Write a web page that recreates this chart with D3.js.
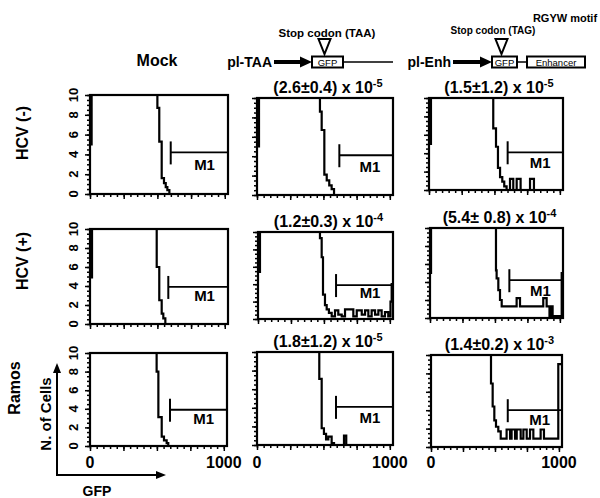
<!DOCTYPE html>
<html>
<head>
<meta charset="utf-8">
<script src="https://cdn.jsdelivr.net/npm/d3@7"></script>
<style>
  body { margin: 0; background: #fff; }
  svg { display: block; font-family: 'Liberation Sans', Arial, sans-serif; font-weight: bold; }
</style>
</head>
<body>
<svg></svg>
<script>
// histogram traces, [GFP, cells] with counts clipped at 10
const mockNeg = [[0, 5], [12, 10], [500, 8.7], [514, 5.3], [532, 1.6], [549, 1.1], [562, 0.7], [574, 0.4], [589, 0]];
const taaNeg = [[0, 5], [15, 10], [474, 8.6], [487, 6.7], [507, 2.1], [525, 1.5], [544, 1], [562, 0.6], [580, 0]];
const enhNeg = [[0, 5], [15, 10], [491, 6.7], [512, 4.7], [527, 2.4], [543, 1.4], [560, 0.9], [575, 0.4], [593, 0],
  [619, 1.2], [644, 0], [670, 1.2], [700, 0], [772, 1.2], [802, 0]];
const mockPos = [[0, 4.9], [15, 10], [495, 6], [514, 2.5], [532, 1.1], [544, 0.6], [559, 0]];
const taaPos = [[0, 5.4], [15, 10], [470, 9.3], [483, 7.1], [493, 2.8], [508, 1.6], [521, 1.1], [538, 0.7], [559, 0.3],
  [584, 1], [609, 0.5], [635, 0.3], [660, 1.1], [723, 0.3], [749, 1], [787, 0.5], [812, 1], [837, 0.3], [862, 1],
  [888, 0.5], [913, 1], [938, 0.3], [963, 0.8], [988, 0.3], [1005, 2], [1014, 4]];
const enhPos = [[0, 5], [8, 10], [508, 5.3], [513, 4.4], [526, 3.1], [539, 2], [552, 1.3], [667, 2.2], [693, 1.3],
  [872, 2.2], [898, 1.3], [911, 1.3], [920, 0.1], [925, 1.3], [932, 0.1], [937, 1.3], [944, 0.2], [975, 0.2], [1014, 5]];
const mockRamos = [[0, 10], [498, 8], [511, 3.1], [536, 1], [553, 0.6], [573, 0.3], [585, 0]];
const taaRamos = [[0, 10], [469, 7.1], [487, 1.8], [504, 1.2], [520, 0.6], [537, 0.9], [562, 0.2], [580, 0], [655, 1], [672, 0]];
const enhRamos = [[0, 10], [469, 6.9], [482, 4.4], [495, 2.9], [508, 2.2], [526, 1.7], [545, 0.9], [591, 1.9], [618, 0.9],
  [630, 1.9], [657, 0.9], [670, 1.9], [701, 0.9], [722, 1.9], [748, 0.9], [774, 1.9], [800, 0.9], [857, 1.9], [883, 0.9], [995, 9]];

const histograms = [mockNeg, taaNeg, enhNeg, mockPos, taaPos, enhPos, mockRamos, taaRamos, enhRamos];

const rowLabels = ['HCV (-)', 'HCV (+)', 'Ramos'];
const freqValues = [null, '(2.6\u00b10.4) x 10', '(1.5\u00b11.2) x 10', null, '(1.2\u00b10.3) x 10', '(5.4\u00b1 0.8) x 10',
  null, '(1.8\u00b11.2) x 10', '(1.4\u00b10.2) x 10'];
const freqExps = [null, '-5', '-5', null, '-4', '-4', null, '-5', '-3'];
const gateStart = [599, 620, 601, 581, 592, 611, 598, 595, 600];
const gateLevel = [4.2, 4.1, 4.1, 3.9, 3.9, 4.2, 3.9, 4.1, 4.0];
const yTicks = [0, 2, 4, 6, 8, 10];
const xTicks = [0, 1000];

const width = 600;
const height = 498;

// panel boxes in pixels
const panels = [
  { x: 90, y: 95, w: 138, h: 99 }, { x: 257, y: 98, w: 136, h: 97 }, { x: 429, y: 98, w: 134, h: 92 },
  { x: 90, y: 229, w: 138, h: 95 }, { x: 258, y: 232, w: 135, h: 87 }, { x: 430, y: 228, w: 133, h: 90 },
  { x: 90, y: 353, w: 137, h: 93 }, { x: 257, y: 352, w: 136, h: 93 }, { x: 431, y: 355, w: 131, h: 92 },
];

const svg = d3.select('svg').attr('width', width).attr('height', height);

const drawPanel = (i) => {
  const p = panels[i];
  const col = i % 3;
  const row = Math.floor(i / 3);
  const g = svg.append('g').attr('transform', 'translate(' + p.x + ',' + p.y + ')');

  const xScale = d3.scaleLinear().domain([0, 1024]).range([0, p.w]);
  const yScale = d3.scaleLinear().domain([0, 10]).range([p.h, 0]);

  // minor and major ticks
  const yMinor = g.append('g').call(d3.axisLeft(yScale).tickValues(d3.range(0, 10.01, 0.5)).tickSize(3).tickFormat(''));
  const yMajor = g.append('g').call(d3.axisLeft(yScale).tickValues(yTicks).tickSize(5).tickFormat(''));
  const xMinor = g.append('g').attr('transform', 'translate(0,' + p.h + ')')
    .call(d3.axisBottom(xScale).tickValues(d3.range(0, 1024, 50)).tickSize(3).tickFormat(''));
  const xMajor = g.append('g').attr('transform', 'translate(0,' + p.h + ')')
    .call(d3.axisBottom(xScale).tickValues([0, 250, 500, 750, 1000]).tickSize(5).tickFormat(''));
  [yMinor, yMajor, xMinor, xMajor].forEach((a) => {
    a.select('.domain').remove();
    a.selectAll('line').attr('stroke', '#000').attr('stroke-width', 1.5);
  });

  // rotated y labels on the first column only
  if (col === 0) {
    g.selectAll('.ylab')
      .data(yTicks)
      .enter()
      .append('text')
      .attr('class', 'ylab')
      .attr('transform', (d) => 'translate(-12,' + yScale(d) + ') rotate(-90)')
      .attr('text-anchor', 'middle')
      .style('font-size', '13px')
      .text((d) => d);
  }

  if (row === 2) {
    g.selectAll('.xlab')
      .data(xTicks)
      .enter()
      .append('text')
      .attr('class', 'xlab')
      .attr('x', (d) => xScale(d))
      .attr('y', 468 - p.y)
      .attr('text-anchor', 'middle')
      .style('font-size', '16px')
      .text((d) => d);
  }

  // histogram
  const data = histograms[i].concat([[1024, histograms[i][histograms[i].length - 1][1]]]);
  const line = d3.line()
    .x((d) => xScale(d[0]))
    .y((d) => yScale(d[1]))
    .curve(d3.curveStepAfter);
  g.append('path')
    .attr('d', line(data))
    .attr('fill', 'none')
    .attr('stroke', '#000')
    .attr('stroke-width', 2.2);

  // frame
  g.append('rect')
    .attr('width', p.w)
    .attr('height', p.h)
    .attr('fill', 'none')
    .attr('stroke', '#000')
    .attr('stroke-width', 2.2);

  // M1 gate
  const gx = xScale(gateStart[i]);
  const gy = yScale(gateLevel[i]);
  g.append('line').attr('x1', gx).attr('x2', p.w).attr('y1', gy).attr('y2', gy)
    .attr('stroke', '#000').attr('stroke-width', 1.8);
  g.append('line').attr('x1', gx).attr('x2', gx).attr('y1', gy - 11).attr('y2', gy + 12)
    .attr('stroke', '#000').attr('stroke-width', 2);
  g.append('text')
    .attr('x', xScale(850))
    .attr('y', yScale(2.4))
    .attr('text-anchor', 'middle')
    .style('font-size', '15px')
    .text('M1');

  // frequency label
  if (freqValues[i]) {
    const t = g.append('text')
      .attr('x', p.w / 2 + 3)
      .attr('y', -5)
      .attr('text-anchor', 'middle')
      .style('font-size', '16px');
    t.append('tspan').text(freqValues[i]);
    t.append('tspan').attr('dy', -6).style('font-size', '11px').text(freqExps[i]);
  }
};

d3.range(9).forEach(drawPanel);

// row labels
const rowCenters = [[28, 133], [28, 261], [20, 388]];
rowLabels.forEach((label, i) => {
  svg.append('text')
    .attr('transform', 'translate(' + rowCenters[i][0] + ',' + rowCenters[i][1] + ') rotate(-90)')
    .attr('text-anchor', 'middle')
    .style('font-size', '16px')
    .text(label);
});

// axis arrows
const arrowHead = (x, y, dir) => {
  const pts = dir === 'up'
    ? [[x, y], [x - 4, y + 10], [x + 4, y + 10]]
    : [[x, y], [x - 10, y - 4], [x - 10, y + 4]];
  svg.append('polygon').attr('points', pts.map((d) => d.join(',')).join(' ')).attr('fill', '#000');
};
svg.append('path').attr('d', 'M57,366 L57,475 L160,475').attr('fill', 'none').attr('stroke', '#000').attr('stroke-width', 2);
arrowHead(57, 363, 'up');
arrowHead(166, 475, 'right');
svg.append('text')
  .attr('transform', 'translate(51,414) rotate(-90)')
  .attr('text-anchor', 'middle')
  .style('font-size', '15px')
  .text('N. of Cells');
svg.append('text').attr('x', 97).attr('y', 496).attr('text-anchor', 'middle').style('font-size', '14px').text('GFP');

// construct diagrams
svg.append('text').attr('x', 157).attr('y', 66).attr('text-anchor', 'middle').style('font-size', '16px').text('Mock');

const construct = (o) => {
  svg.append('text').attr('x', o.labelX).attr('y', 67).attr('text-anchor', 'end').style('font-size', '14px').text(o.label);
  svg.append('line').attr('x1', o.labelX + 2).attr('x2', o.gfpX - 9).attr('y1', 62).attr('y2', 62)
    .attr('stroke', '#000').attr('stroke-width', 4);
  svg.append('polygon')
    .attr('points', [[o.gfpX, 62], [o.gfpX - 12, 56.5], [o.gfpX - 12, 67.5]].map((d) => d.join(',')).join(' '))
    .attr('fill', '#000');
  svg.append('rect').attr('x', o.gfpX).attr('y', 56.5).attr('width', o.gfpW).attr('height', 11)
    .attr('fill', '#fff').attr('stroke', '#000').attr('stroke-width', 2);
  svg.append('text').attr('x', o.gfpX + o.gfpW / 2).attr('y', 65.5).attr('text-anchor', 'middle')
    .style('font-size', '9.5px').style('font-weight', 'normal').text('GFP');
  const tx = o.gfpX + o.gfpW / 2 - 3;
  svg.append('polygon')
    .attr('points', [[tx - 6, 39], [tx + 6, 39], [tx, 54]].map((d) => d.join(',')).join(' '))
    .attr('fill', '#fff').attr('stroke', '#000').attr('stroke-width', 2);
  svg.append('text').attr('x', o.stopX).attr('y', o.stopY).attr('text-anchor', 'middle')
    .style('font-size', o.stopSize).text(o.stop);
};

construct({ label: 'pl-TAA', labelX: 272, gfpX: 312, gfpW: 31, stop: 'Stop codon (TAA)', stopX: 327, stopY: 37, stopSize: '11.5px' });
svg.append('line').attr('x1', 343).attr('x2', 393).attr('y1', 62).attr('y2', 62).attr('stroke', '#000').attr('stroke-width', 1.5);

construct({ label: 'pl-Enh', labelX: 451, gfpX: 492, gfpW: 25, stop: 'Stop codon (TAG)', stopX: 493, stopY: 34, stopSize: '10px' });
svg.append('line').attr('x1', 517).attr('x2', 527).attr('y1', 62).attr('y2', 62).attr('stroke', '#000').attr('stroke-width', 1.5);
svg.append('rect').attr('x', 527).attr('y', 56.5).attr('width', 58).attr('height', 11)
  .attr('fill', '#fff').attr('stroke', '#000').attr('stroke-width', 2);
svg.append('text').attr('x', 556).attr('y', 65.5).attr('text-anchor', 'middle')
  .style('font-size', '9.5px').style('font-weight', 'normal').text('Enhancer');
svg.append('text').attr('x', 565).attr('y', 22).attr('text-anchor', 'middle').style('font-size', '11px').text('RGYW motif');
</script>
</body>
</html>
